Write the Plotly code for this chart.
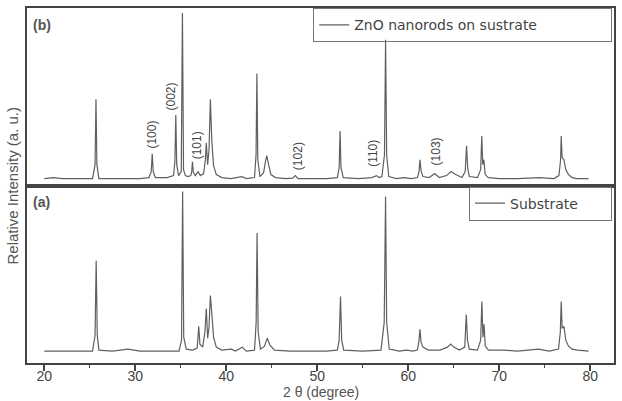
import plotly.graph_objects as go

# ---------------- data (2θ in degree, relative intensity in a.u.) ----------------
two_theta_b = [20.0, 21.0, 22.0, 23.5, 25.3, 25.58, 25.68, 25.78, 26.0, 27.5, 29.0, 30.5,
               31.5, 31.75, 31.86, 31.97, 32.2, 33.5, 34.2, 34.35, 34.45, 34.55, 34.75,
               35.05, 35.18, 35.3, 35.5, 35.8, 36.1, 36.2, 36.28, 36.38, 36.6, 36.9, 37.15,
               37.5, 37.7, 37.8, 37.95, 38.1, 38.25, 38.4, 38.6, 38.9, 39.5, 40.5, 41.7,
               42.2, 43.1, 43.27, 43.36, 43.46, 43.7, 44.1, 44.3, 44.45, 44.65, 44.9, 45.4,
               46.5, 47.3, 47.58, 47.9, 49.5, 51.0, 52.2, 52.4, 52.5, 52.6, 52.85, 54.5,
               56.0, 56.5, 56.8, 57.1, 57.38, 57.5, 57.62, 57.85, 58.7, 59.5, 60.3, 61.0,
               61.18, 61.28, 61.4, 61.6, 62.3, 62.9, 63.4, 64.2, 64.7, 65.2, 65.9, 66.25,
               66.4, 66.52, 66.7, 67.6, 67.95, 68.07, 68.18, 68.3, 68.45, 68.8, 70.0, 72.0,
               74.4, 76.0, 76.55, 76.73, 76.8, 76.9, 77.1, 77.3, 77.6, 78.0, 78.5, 79.8]
intensity_b = [1, 2, 1, 1, 1, 15, 81, 15, 1, 1, 1, 1,
               2, 8, 26, 8, 2, 2, 4, 18, 65, 15, 4,
               8, 168, 10, 4, 3, 4, 8, 18, 7, 4, 8, 4,
               6, 20, 37, 15, 30, 81, 40, 14, 5, 2, 1, 3,
               1, 2, 25, 107, 20, 3, 7, 18, 24, 15, 5, 2,
               1, 1.5, 4, 1, 1, 1, 2, 12, 49, 12, 2, 1,
               2, 4, 2, 3, 25, 141, 25, 3, 1, 2, 1, 2,
               8, 20, 9, 3, 2, 6, 2, 4, 8, 5, 2, 8,
               34, 12, 3, 2, 10, 44, 15, 20, 5, 2, 1, 1,
               2, 1, 4, 20, 44, 22, 20, 10, 5, 2, 1, 1]

two_theta_a = [20.0, 22.0, 24.0, 25.3, 25.58, 25.7, 25.82, 26.0, 27.5, 29.2, 30.5, 33.0,
               34.8, 35.08, 35.2, 35.32, 35.6, 36.3, 36.8, 36.97, 37.1, 37.4, 37.65, 37.8,
               37.95, 38.1, 38.25, 38.4, 38.6, 38.9, 39.5, 40.55, 41.0, 41.75, 42.2, 43.1,
               43.28, 43.38, 43.5, 43.75, 44.2, 44.5, 44.8, 45.3, 47.0, 49.0, 51.0, 52.2,
               52.4, 52.55, 52.68, 52.9, 55.0, 57.0, 57.35, 57.5, 57.62, 57.9, 59.0, 59.8,
               60.5, 61.0, 61.15, 61.28, 61.4, 61.6, 62.2, 63.5, 64.3, 64.65, 65.0, 65.6,
               66.2, 66.37, 66.5, 66.7, 67.6, 67.95, 68.08, 68.2, 68.32, 68.45, 68.8, 70.5,
               72.0, 74.3, 75.5, 76.5, 76.7, 76.8, 76.9, 77.1, 77.3, 77.6, 78.0, 78.6, 79.8]
intensity_a = [1, 1, 1, 1, 17, 92, 17, 2, 1, 3, 1, 1,
               1, 12, 162, 15, 3, 2, 4, 26, 8, 5, 20, 44,
               14, 25, 57, 40, 15, 5, 2, 3, 1, 5, 1, 2,
               30, 120, 20, 3, 6, 14, 7, 2, 1, 1, 1, 2,
               12, 56, 12, 2, 1, 2, 30, 157, 30, 3, 1, 2,
               1, 2, 10, 23, 10, 5, 2, 2, 5, 8, 5, 2,
               5, 38, 12, 3, 2, 12, 51, 15, 28, 6, 2, 2,
               1, 3, 1, 3, 20, 51, 24, 26, 12, 6, 3, 2, 1]

peak_labels = ["(100)", "(002)", "(101)", "(102)", "(110)", "(103)"]
label_two_theta = [31.8, 33.95, 36.72, 47.81, 56.13, 63.0]
label_intensity = [45, 84, 35, 24, 26, 28]

x_ticks = [20, 30, 40, 50, 60, 70, 80]
name_b = "ZnO nanorods on sustrate"
name_a = "Substrate"

# ---------------- figure ----------------
line_col = "#5f5f5f"
axis_col = "#444444"
txt_col = "#444444"
font_fam = "Liberation Sans, Arial, sans-serif"

fig = go.Figure()
fig.add_trace(go.Scatter(x=two_theta_b, y=intensity_b, mode="lines", name=name_b,
                         line=dict(color=line_col, width=1.2), xaxis="x2", yaxis="y2",
                         legend="legend"))
fig.add_trace(go.Scatter(x=two_theta_a, y=intensity_a, mode="lines", name=name_a,
                         line=dict(color=line_col, width=1.2), xaxis="x", yaxis="y",
                         legend="legend2"))

xr = [18.1, 82.6]
fig.update_layout(
    width=622, height=401,
    margin=dict(l=27, r=6, t=6, b=38),
    paper_bgcolor="white", plot_bgcolor="white",
    font=dict(family=font_fam, color=txt_col, size=13),
    xaxis=dict(domain=[0, 1], range=xr, anchor="y", showline=True, mirror=True,
               linecolor=axis_col, linewidth=1.5, showgrid=False, zeroline=False,
               tickvals=x_ticks, ticks="outside", ticklen=6, tickwidth=1.5, tickcolor=axis_col,
               ticklabelstandoff=-7,
               minor=dict(dtick=5, tick0=0, ticks="outside", ticklen=3, tickwidth=1.2, tickcolor=axis_col),
               tickfont=dict(size=14, color=txt_col, family=font_fam)),
    yaxis=dict(domain=[0, 0.5], range=[-11, 168], anchor="x", showline=True, mirror=True,
               linecolor=axis_col, linewidth=1.5, showgrid=False, zeroline=False,
               showticklabels=False, ticks=""),
    xaxis2=dict(domain=[0, 1], range=xr, anchor="y2", matches="x", showline=True, mirror=True,
                linecolor=axis_col, linewidth=1.5, showgrid=False, zeroline=False,
                showticklabels=False, ticks=""),
    yaxis2=dict(domain=[0.5, 1], range=[-6, 173], anchor="x2", showline=True, mirror=True,
                linecolor=axis_col, linewidth=1.5, showgrid=False, zeroline=False,
                showticklabels=False, ticks=""),
    legend=dict(x=0.997, y=0.999, xanchor="right", yanchor="top", bgcolor="rgba(255,255,255,0)",
                bordercolor="#777777", borderwidth=1, orientation="h", entrywidth=252,
                font=dict(size=14, color=txt_col, family="DejaVu Sans, sans-serif")),
    legend2=dict(x=0.9966, y=0.497, xanchor="right", yanchor="top", bgcolor="white",
                 bordercolor="#777777", borderwidth=1, orientation="h", entrywidth=96,
                 font=dict(size=14, color=txt_col, family="DejaVu Sans, sans-serif")),
    showlegend=True,
)

annotations = []
for lab, xv, yv in zip(peak_labels, label_two_theta, label_intensity):
    annotations.append(dict(text=lab, x=xv, y=yv, xref="x2", yref="y2", textangle=-90,
                            showarrow=False, xanchor="center", yanchor="middle",
                            font=dict(size=12, color=txt_col, family=font_fam)))
annotations += [
    dict(text="<b>(b)</b>", x=0.007, y=0.9525, xref="paper", yref="paper", showarrow=False,
         xanchor="left", yanchor="middle", font=dict(size=14, color="#555555", family=font_fam)),
    dict(text="<b>(a)</b>", x=0.007, y=0.4525, xref="paper", yref="paper", showarrow=False,
         xanchor="left", yanchor="middle", font=dict(size=14, color="#555555", family=font_fam)),
    dict(text="Relative Intensity (a. u.)", x=-0.0255, y=0.5, xref="paper", yref="paper",
         textangle=-90, showarrow=False, xanchor="center", yanchor="middle",
         font=dict(size=15, color="#555555", family=font_fam)),
    dict(text="2 θ (degree)", x=0.5, y=-38 / 357, xref="paper", yref="paper", showarrow=False,
         xanchor="center", yanchor="bottom", borderpad=0,
         font=dict(size=14, color="#555555", family=font_fam)),
]
fig.update_layout(annotations=annotations)

fig.write_html("out.html")
